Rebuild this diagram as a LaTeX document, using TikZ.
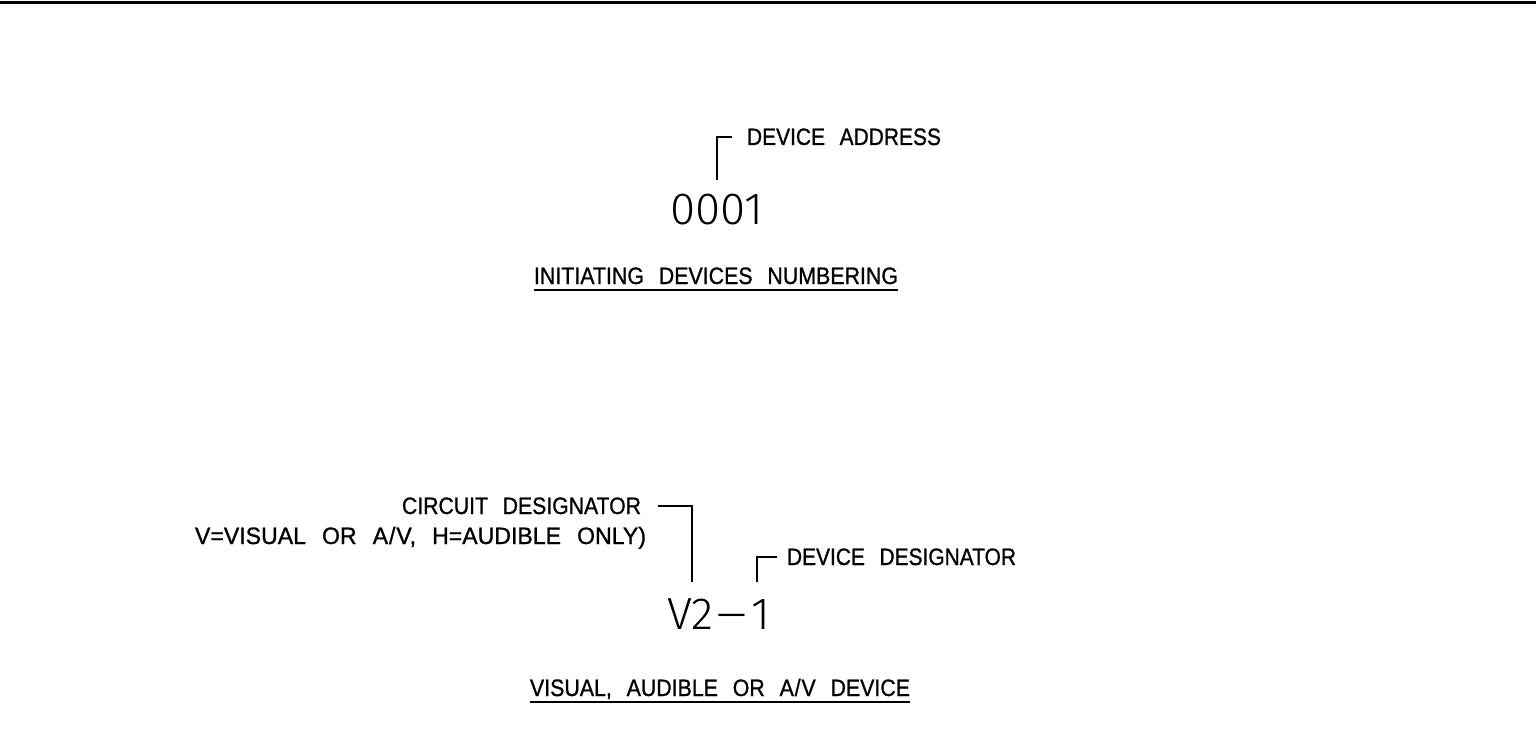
\documentclass[tikz,border=0pt]{standalone}
\usepackage{fontspec}
\usepackage{graphicx}
\newfontfamily\cad[WordSpace=2.5,FakeBold=1.0]{Liberation Sans}
\newfontfamily\cadthin{Fira Sans Light}
\newcommand{\fitw}[2]{\resizebox{#1}{\height}{#2}}
\newcommand{\av}{A\kern0.04em/\kern0.04em V}
\begin{document}
\begin{tikzpicture}[x=1pt,y=-1pt,
  txt/.style={inner sep=0pt, outer sep=0pt},
  smalltxt/.style={txt, font=\cad\fontsize{23.7}{28}\selectfont},
  bigtxt/.style={txt, font=\cadthin\fontsize{45}{50}\selectfont},
  lead/.style={line width=2.4pt, line cap=butt, line join=miter},
  uline/.style={line width=2.4pt},
  border/.style={line width=3pt}]
\useasboundingbox (0,0) rectangle (1536,738);
% top border
\coordinate (tl) at (0,3);
\coordinate (tr) at (1536,3);
\draw[border] (tl) -- (tr);
% upper group
\node[smalltxt, anchor=base west] (addr) at (747,145) {\fitw{194pt}{DEVICE ADDRESS}};
\node[bigtxt, anchor=base west] (num1) at (670,224) {\fitw{93pt}{0001}};
\node[smalltxt, anchor=base west] (init) at (534,284) {\fitw{364pt}{INITIATING DEVICES NUMBERING}};
\draw[uline] ([yshift=-6pt]init.base west) -- ([yshift=-6pt]init.base east);
\coordinate (a1) at (717,180);
\draw[lead] ([xshift=-15pt]addr.west) -| (a1);
% lower group
\node[smalltxt, anchor=base east] (circ) at (641,514) {\fitw{239pt}{CIRCUIT DESIGNATOR}};
\node[smalltxt, anchor=base east] (vdef) at (646,544) {\fitw{451pt}{V=VISUAL OR \av, H=AUDIBLE ONLY)}};
\node[smalltxt, anchor=base west] (dd) at (787,565) {\fitw{229pt}{DEVICE DESIGNATOR}};
\node[bigtxt, anchor=base west] (v21) at (667,629) {\fitw{103pt}{V2\kern0.06em\scalebox{1.3}[1]{–}\kern0.08em 1}};
\node[smalltxt, anchor=base west] (vis) at (530,696) {\fitw{380pt}{VISUAL, AUDIBLE OR \av{} DEVICE}};
\draw[uline] ([yshift=-6pt]vis.base west) -- ([yshift=-6pt]vis.base east);
\coordinate (c1) at (692,582);
\draw[lead] ([xshift=17pt]circ.east) -| (c1);
\coordinate (d1) at (757,582);
\draw[lead] ([xshift=-10pt]dd.west) -| (d1);
\end{tikzpicture}
\end{document}
